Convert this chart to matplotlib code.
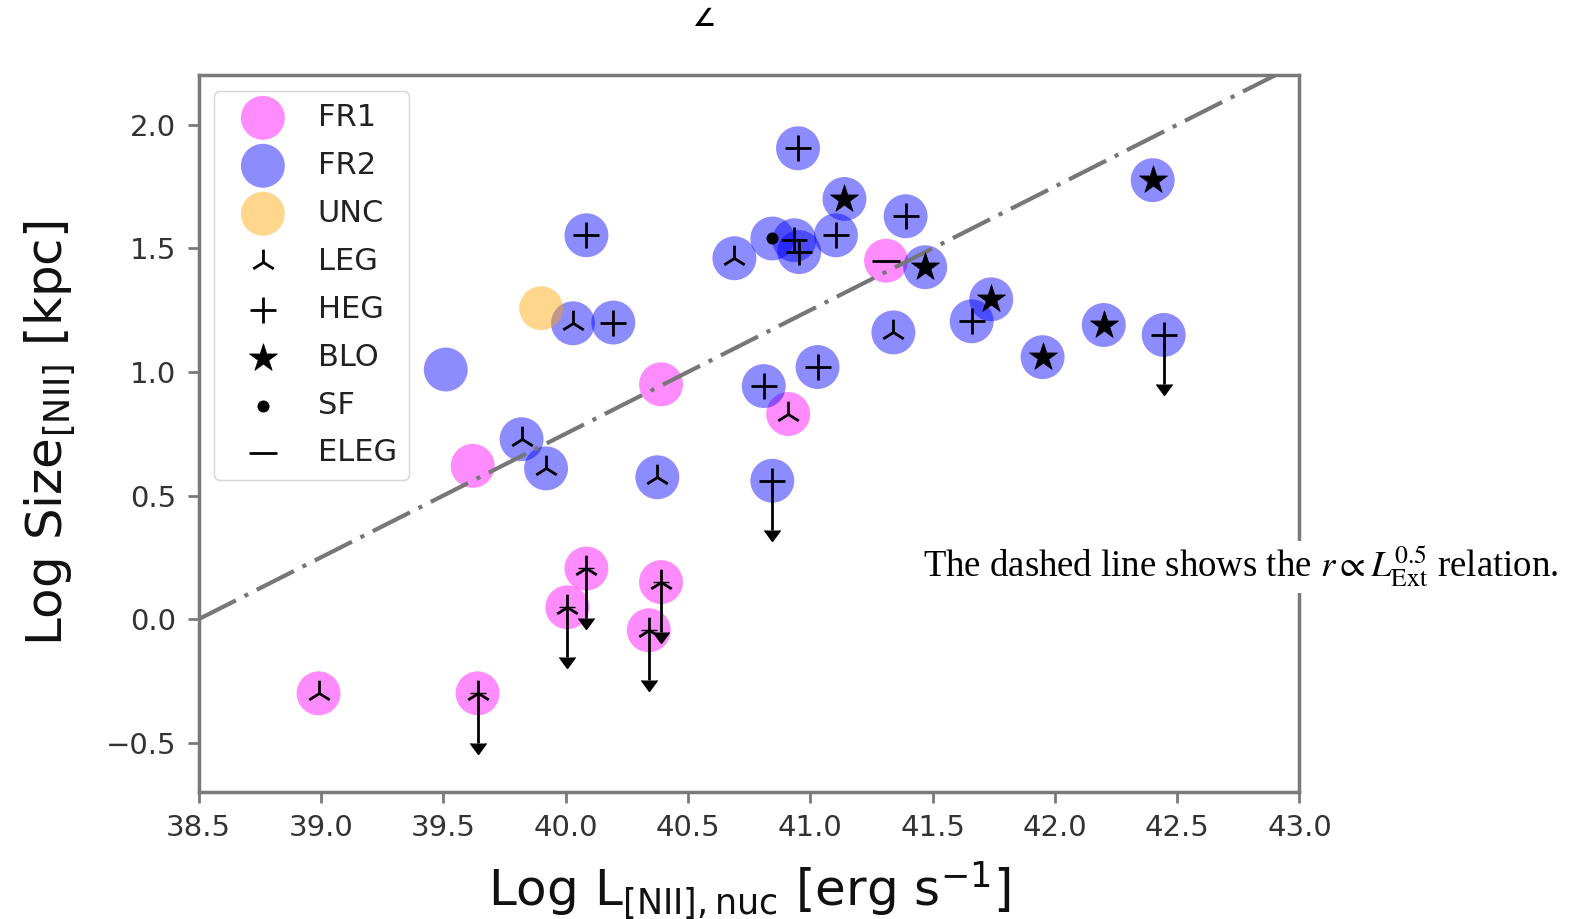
import matplotlib
matplotlib.use('Agg')
import matplotlib.pyplot as plt

# ---------------- data ----------------
# FR1 (magenta)
fr1_x = [38.99, 39.64, 39.62, 40.39, 40.91, 41.31, 40.085, 40.007, 40.39, 40.34]
fr1_y = [-0.30, -0.30, 0.62, 0.95, 0.83, 1.45, 0.205, 0.048, 0.15, -0.045]
fr1_exc = ['LEG', 'LEG', '', '', 'LEG', 'ELEG', 'LEG', 'LEG', 'LEG', 'LEG']
fr1_ul = [False, True, False, False, False, False, True, True, True, True]

# FR2 (blue)
fr2_x = [40.95, 41.14, 41.39, 40.085, 40.69, 40.845, 40.935, 40.955, 41.105,
         40.03, 40.195, 39.51, 39.82, 39.92, 40.375, 40.845, 40.81, 41.03,
         41.34, 42.40, 41.47, 41.74, 41.66, 41.95, 42.20, 42.445]
fr2_y = [1.905, 1.70, 1.63, 1.553, 1.46, 1.54, 1.533, 1.485, 1.553,
         1.197, 1.20, 1.01, 0.728, 0.61, 0.574, 0.56, 0.943, 1.02,
         1.16, 1.776, 1.424, 1.294, 1.205, 1.06, 1.19, 1.15]
fr2_exc = ['HEG', 'BLO', 'HEG', 'HEG', 'LEG', 'SF', 'HEG', 'HEG', 'HEG',
           'LEG', 'HEG', '', 'LEG', 'LEG', 'LEG', 'HEG', 'HEG', 'HEG',
           'LEG', 'BLO', 'BLO', 'BLO', 'HEG', 'BLO', 'BLO', 'HEG']
fr2_ul = [False] * 15 + [True] + [False] * 9 + [True]

# UNC (orange)
unc_x = [39.90]
unc_y = [1.258]
unc_exc = ['']
unc_ul = [False]

ul_length = 0.2

# r ∝ L^0.5 relation line
line_x = [38.5, 43.0]
line_y = [0.0, 2.25]

xticks = [38.5, 39.0, 39.5, 40.0, 40.5, 41.0, 41.5, 42.0, 42.5, 43.0]
yticks = [-0.5, 0.0, 0.5, 1.0, 1.5, 2.0]

# ---------------- styles ----------------
classes = [('FR1', fr1_x, fr1_y, fr1_exc, fr1_ul, 'magenta'),
           ('FR2', fr2_x, fr2_y, fr2_exc, fr2_ul, 'blue'),
           ('UNC', unc_x, unc_y, unc_exc, unc_ul, 'orange')]
exc_styles = {
    'LEG': dict(marker='2', s=340, linewidths=2.0),
    'HEG': dict(marker='+', s=340, linewidths=2.0),
    'BLO': dict(marker='*', s=450, linewidths=0.5),
    'SF': dict(marker='o', s=75, linewidths=0),
    'ELEG': dict(marker='_', s=420, linewidths=2.0),
}
exc_order = ['LEG', 'HEG', 'BLO', 'SF', 'ELEG']

spine_col = '#7a7a7a'

fig = plt.figure(figsize=(15.77, 9.19), dpi=100)
ax = fig.add_axes([0.126, 0.138, 0.698, 0.780])

handles = []
for name, xs, ys, ex, ul, col in classes:
    h = ax.scatter(xs, ys, s=1000, c=col, alpha=0.45, edgecolors='none',
                   label=name, zorder=2)
    handles.append(h)

all_x = fr1_x + fr2_x + unc_x
all_y = fr1_y + fr2_y + unc_y
all_exc = fr1_exc + fr2_exc + unc_exc
all_ul = fr1_ul + fr2_ul + unc_ul

for key in exc_order:
    xs = [x for x, e in zip(all_x, all_exc) if e == key]
    ys = [y for y, e in zip(all_y, all_exc) if e == key]
    h = ax.scatter(xs, ys, c='black', label=key, zorder=4, **exc_styles[key])
    handles.append(h)

ulx = [x for x, u in zip(all_x, all_ul) if u]
uly = [y for y, u in zip(all_y, all_ul) if u]
eb = ax.errorbar(ulx, uly, yerr=ul_length, uplims=True, fmt='none', ecolor='black',
                 elinewidth=2.0, capsize=5.5, zorder=5)
for cap in eb.lines[1]:
    cap.set_markerfacecolor('black')
    cap.set_markeredgecolor('black')

ax.plot(line_x, line_y, color='#777777', lw=3.0, linestyle=(0, (10, 2.3, 1.0, 2.3)),
        zorder=3)

ax.set_xlim(38.5, 43.0)
ax.set_ylim(-0.7, 2.2)
ax.set_xticks(xticks)
ax.set_xticklabels([f'{t:.1f}' for t in xticks])
ax.set_yticks(yticks)
ax.set_yticklabels([f'{t:.1f}'.replace('-', '\u2212') for t in yticks])

for sp in ax.spines.values():
    sp.set_color(spine_col)
    sp.set_linewidth(2.5)
ax.tick_params(axis='both', colors=spine_col, width=2.0, length=8,
               labelsize=21, labelcolor='#333333', pad=8)

ax.set_xlabel(r'Log L$_\mathregular{[NII],nuc}$ [erg s$^\mathregular{-1}$]',
              fontsize=36, color='#111111', labelpad=12)
ax.set_ylabel(r'Log Size$_\mathregular{[NII]}$ [kpc]', fontsize=36,
              color='#111111', labelpad=20)

leg = ax.legend(handles=handles, loc='upper left', fontsize=22, labelspacing=0.62,
                handlelength=2.4, handletextpad=0.6, borderpad=0.4,
                scatterpoints=1, framealpha=0.8, edgecolor='#cccccc')
for t in leg.get_texts():
    t.set_color('#222222')

fig.text(0.5853, 0.383,
         r'The dashed line shows the $r \propto L_{\rm Ext}^{0.5}$ relation.',
         fontsize=26.5, family='Liberation Serif', math_fontfamily='stix',
         ha='left', va='center', color='black', zorder=10,
         bbox=dict(facecolor='white', edgecolor='none', pad=3))

fig.text(0.446, 0.979, '\u2220', fontsize=18, fontweight='bold', ha='center',
         va='center', color='black')

fig.savefig('out.png', dpi=100)
